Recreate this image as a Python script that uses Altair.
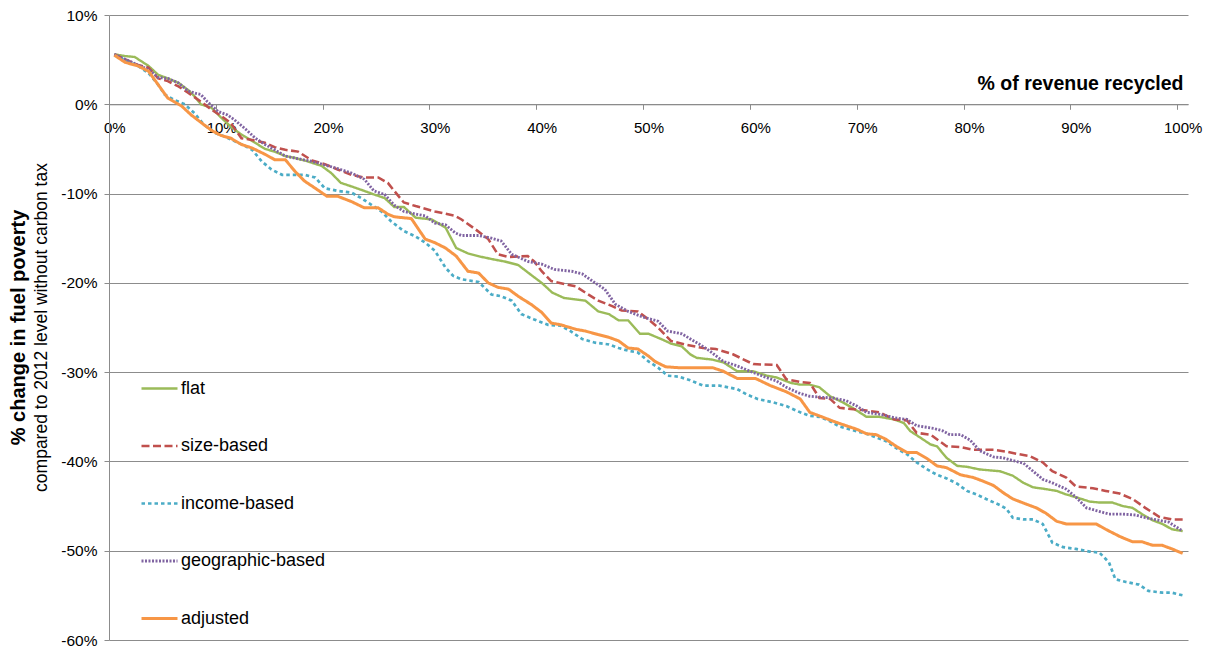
import altair as alt
import pandas as pd

series_names = ["flat", "size-based", "income-based", "geographic-based", "adjusted"]

# (x = % of revenue recycled, y = % change in fuel poverty)
flat = [(0.0,5.6),(1.0,5.4),(1.9,5.3),(3.2,4.3),(4.1,3.3),(5.0,2.9),(6.0,2.4),(6.9,1.6),(7.5,0.9),(8.1,0.0),
        (9.1,-0.4),(10.0,-1.5),(10.9,-2.5),(11.9,-3.4),(12.9,-4.1),(14.1,-5.0),(15.0,-5.3),(16.0,-5.8),(16.9,-6.0),
        (18.1,-6.4),(19.4,-6.9),(20.3,-7.7),(21.2,-8.8),(22.2,-9.2),(23.4,-9.7),(24.3,-10.1),(25.3,-10.5),(26.2,-11.5),
        (27.1,-11.5),(28.2,-12.7),(29.7,-12.9),(31.0,-13.8),(32.0,-16.1),(33.1,-16.7),(34.4,-17.1),(35.6,-17.4),
        (36.5,-17.6),(37.8,-18.0),(39.0,-19.1),(40.0,-20.0),(41.0,-21.1),(42.1,-21.7),(44.1,-22.0),(45.3,-23.2),
        (46.3,-23.5),(47.2,-24.2),(48.1,-24.2),(49.2,-25.7),(50.0,-25.7),(51.2,-26.3),(52.1,-26.8),(53.1,-27.1),
        (53.9,-28.0),(54.5,-28.4),(56.0,-28.6),(57.0,-28.9),(58.3,-29.9),(59.8,-29.9),(61.1,-30.4),(62.0,-30.6),
        (63.3,-31.2),(64.2,-31.4),(65.1,-31.4),(66.0,-31.7),(67.0,-32.7),(68.2,-33.4),(69.1,-34.0),(70.4,-35.0),
        (71.6,-35.0),(73.0,-35.3),(73.9,-35.7),(74.5,-36.6),(75.4,-37.3),(76.4,-38.1),(77.0,-38.3),(77.9,-39.6),
        (78.9,-40.5),(79.8,-40.6),(81.0,-40.9),(82.9,-41.1),(84.1,-41.6),(85.1,-42.4),(86.0,-42.9),(87.2,-43.1),
        (88.2,-43.3),(89.1,-43.7),(90.0,-44.0),(91.3,-44.5),(92.2,-44.6),(93.4,-44.6),(94.4,-45.0),(95.3,-45.2),
        (96.2,-45.9),(97.2,-46.6),(98.1,-47.0),(99.0,-47.6),(100.0,-47.8)]

size_based = [(0.0,5.6),(2.2,4.4),(3.2,4.1),(4.1,2.9),(5.0,2.6),(6.0,2.0),(6.9,1.3),(8.1,0.3),(9.1,-0.6),(10.0,-1.3),
        (10.9,-2.1),(11.9,-3.8),(12.9,-4.0),(14.1,-4.3),(15.0,-4.8),(16.0,-5.1),(17.2,-5.3),(18.5,-6.3),(19.7,-6.7),
        (20.9,-7.3),(22.2,-7.9),(23.4,-8.2),(24.7,-8.2),(25.6,-8.8),(26.2,-9.7),(27.1,-11.0),(28.2,-11.4),(30.0,-12.0),
        (31.9,-12.5),(32.5,-12.9),(33.8,-14.0),(35.0,-15.1),(35.9,-16.8),(36.9,-17.1),(38.7,-17.0),(39.3,-17.6),
        (40.0,-18.7),(40.9,-19.8),(43.2,-20.4),(44.1,-21.1),(45.3,-22.0),(46.6,-22.6),(47.5,-23.1),(49.0,-23.2),
        (50.0,-24.1),(50.9,-25.0),(52.1,-26.5),(53.4,-26.9),(55.1,-27.3),(56.3,-27.4),(57.9,-28.0),(59.8,-29.1),
        (62.0,-29.2),(62.9,-30.8),(64.2,-31.1),(65.1,-31.2),(66.0,-32.9),(67.0,-33.0),(67.9,-34.0),(70.4,-34.3),
        (71.6,-34.5),(73.0,-35.3),(74.2,-35.4),(75.1,-36.8),(76.4,-37.0),(77.9,-38.3),(79.2,-38.4),(80.4,-38.7),
        (82.3,-38.7),(83.5,-38.9),(84.7,-39.2),(85.7,-39.4),(86.9,-40.1),(87.8,-41.1),(89.1,-41.8),(90.0,-42.8),
        (91.6,-43.0),(92.8,-43.3),(94.1,-43.6),(95.3,-44.2),(96.5,-45.2),(97.8,-46.2),(99.0,-46.5),(100.0,-46.5)]

income_based = [(0.0,5.5),(2.2,4.3),(3.2,3.5),(4.1,2.2),(4.7,1.1),(5.6,0.5),(6.6,0.0),(7.5,-1.0),(8.4,-2.3),(9.4,-3.2),
        (10.3,-3.6),(11.2,-4.1),(12.3,-4.7),(12.9,-5.1),(13.8,-6.4),(14.7,-7.3),(15.7,-7.9),(17.8,-7.9),(18.8,-8.2),
        (19.7,-9.4),(20.9,-9.7),(22.2,-9.9),(23.1,-10.5),(24.0,-11.2),(25.0,-12.0),(25.9,-13.1),(27.1,-14.2),
        (28.2,-14.8),(29.1,-15.5),(30.0,-16.4),(31.0,-18.3),(31.7,-19.2),(32.5,-19.6),(34.1,-19.9),(35.3,-21.3),
        (36.2,-21.5),(37.2,-22.0),(38.1,-23.5),(39.3,-24.1),(40.6,-24.7),(41.8,-24.8),(42.7,-25.4),(43.8,-26.3),
        (45.0,-26.7),(46.3,-26.9),(47.2,-27.3),(48.1,-27.6),(49.0,-27.8),(50.0,-28.8),(50.9,-29.5),(51.8,-30.4),
        (52.8,-30.5),(53.9,-30.9),(55.1,-31.5),(56.6,-31.5),(58.3,-31.9),(59.2,-32.5),(60.2,-33.0),(61.7,-33.4),
        (62.9,-33.8),(64.2,-34.5),(65.1,-34.9),(66.0,-35.0),(67.0,-35.5),(67.9,-36.1),(69.1,-36.5),(70.4,-36.9),
        (71.3,-37.3),(72.2,-37.7),(73.3,-38.6),(74.2,-39.2),(75.1,-40.1),(76.1,-40.9),(77.0,-41.5),(77.9,-41.9),
        (78.9,-42.5),(79.8,-43.3),(80.7,-43.7),(81.6,-44.2),(82.9,-44.9),(83.5,-45.3),(84.1,-46.3),(85.1,-46.5),
        (86.0,-46.5),(86.9,-47.0),(87.8,-49.1),(88.8,-49.6),(90.0,-49.8),(91.3,-50.1),(92.2,-50.2),(93.1,-51.3),
        (93.7,-53.2),(94.7,-53.5),(95.9,-53.8),(96.8,-54.5),(98.1,-54.7),(99.0,-54.7),(100.0,-55.0)]

geographic_based = [(0.0,5.6),(2.2,4.4),(3.2,3.9),(4.1,3.0),(5.0,2.9),(6.0,2.4),(6.9,1.5),(7.7,1.2),(8.1,1.1),(8.7,0.3),
        (9.7,-0.8),(10.6,-1.2),(11.2,-1.7),(12.3,-2.8),(13.2,-3.8),(14.1,-4.5),(15.0,-5.1),(16.0,-5.8),(17.2,-6.1),
        (18.5,-6.4),(19.7,-6.8),(20.9,-7.2),(22.2,-7.7),(23.4,-8.4),(24.3,-9.7),(25.3,-10.1),(26.2,-11.3),(27.1,-12.0),
        (28.2,-12.3),(29.1,-12.5),(30.0,-13.3),(31.0,-13.5),(31.9,-14.4),(32.5,-14.7),(34.1,-14.7),(35.3,-15.0),
        (36.2,-15.3),(37.2,-16.8),(38.7,-17.6),(40.0,-17.9),(41.2,-18.5),(42.8,-18.7),(43.8,-19.0),(45.0,-20.0),
        (45.9,-20.7),(46.9,-22.4),(48.1,-23.2),(49.4,-23.8),(50.9,-24.3),(51.8,-25.4),(53.1,-25.7),(54.8,-26.9),
        (55.7,-27.6),(57.0,-28.8),(58.3,-29.3),(59.5,-29.9),(60.8,-30.5),(62.0,-31.0),(62.9,-31.7),(64.2,-32.4),
        (65.1,-32.7),(66.0,-32.8),(67.3,-32.9),(68.5,-33.2),(69.5,-33.8),(70.4,-34.5),(71.6,-34.7),(73.0,-35.1),
        (74.2,-35.3),(75.1,-36.0),(76.7,-36.3),(77.6,-36.6),(78.2,-37.0),(79.2,-37.0),(80.1,-37.6),(81.0,-38.8),
        (82.3,-39.5),(83.2,-39.6),(84.1,-39.9),(85.1,-40.2),(86.0,-41.1),(86.9,-42.0),(87.8,-42.4),(89.1,-43.1),
        (90.0,-44.0),(91.0,-45.2),(91.9,-45.5),(93.1,-45.9),(94.4,-45.9),(95.6,-46.0),(96.5,-46.3),(97.8,-46.6),
        (98.7,-46.8),(100.0,-47.8)]

adjusted = [(0.0,5.5),(1.0,4.7),(2.2,4.3),(3.2,3.7),(4.1,2.2),(5.0,0.7),(6.3,-0.2),(7.2,-1.2),(8.4,-2.3),(9.2,-3.0),
        (10.0,-3.5),(10.9,-3.8),(11.9,-4.5),(12.9,-4.9),(14.1,-5.6),(15.0,-6.2),(16.0,-6.2),(16.9,-7.5),(17.8,-8.6),
        (18.8,-9.4),(19.9,-10.3),(20.9,-10.3),(22.2,-10.9),(23.4,-11.6),(24.7,-11.6),(25.6,-12.3),(26.2,-12.6),
        (27.8,-12.8),(29.1,-15.1),(30.0,-15.5),(31.0,-16.1),(32.0,-17.0),(33.1,-18.7),(34.1,-18.9),(35.0,-20.0),
        (35.9,-20.5),(36.9,-20.7),(37.8,-21.5),(39.0,-22.4),(40.0,-23.3),(40.9,-24.5),(41.8,-24.7),(43.2,-25.2),
        (44.1,-25.4),(45.3,-25.8),(46.3,-26.1),(47.2,-26.5),(48.1,-27.3),(49.0,-27.4),(50.0,-28.2),(50.6,-28.8),
        (51.6,-29.4),(52.8,-29.5),(53.9,-29.5),(56.0,-29.5),(57.0,-29.9),(58.3,-30.7),(60.0,-30.7),(61.4,-31.5),
        (62.9,-32.2),(64.2,-33.0),(65.1,-34.5),(66.0,-34.9),(67.3,-35.5),(68.5,-36.0),(69.5,-36.4),(70.4,-36.9),
        (71.3,-37.0),(72.2,-37.5),(73.3,-38.4),(74.2,-39.0),(75.1,-39.0),(76.1,-39.7),(77.0,-40.5),(77.9,-40.7),
        (79.2,-41.5),(80.4,-41.8),(81.3,-42.2),(82.3,-42.7),(83.2,-43.5),(84.1,-44.2),(85.4,-44.8),(86.3,-45.2),
        (87.2,-45.8),(88.2,-46.7),(89.1,-47.0),(91.9,-47.0),(92.8,-47.6),(94.1,-48.4),(95.3,-49.0),(96.2,-49.0),
        (97.2,-49.4),(98.1,-49.4),(99.0,-49.8),(100.0,-50.3)]

x_ticks = list(range(0, 101, 10))
y_ticks = list(range(-60, 11, 10))
y_title_main = "% change in fuel poverty"
y_title_sub = "compared to 2012 level without carbon tax"
x_title = "% of revenue recycled"

colors = ["#9BBB59", "#C0504D", "#4BACC6", "#8064A2", "#F79646"]
dashes = [[1, 0], [8, 3.5], [3.5, 3], [2, 1.5], [1, 0]]
widths = [2.4, 3, 3.4, 2.6, 4.6]

rows = []
for name, pts in zip(series_names, [flat, size_based, income_based, geographic_based, adjusted]):
    for i, (xv, yv) in enumerate(pts):
        rows.append({"series": name, "x": xv, "y": yv, "order": i})
df = pd.DataFrame(rows)

W, H = 1079, 625
FONT = "Liberation Sans"
GRAY = "#8c8c8c"
half_cat = W / 101 / 2
zero_offset = -(H * 60 / 70)

leg = alt.Legend(title=None)

lines = alt.Chart(df).mark_line().encode(
    x=alt.X("x:Q",
            scale=alt.Scale(domain=[-0.5, 100.5], nice=False, zero=False),
            axis=alt.Axis(values=x_ticks, labelExpr="datum.value + '%'", grid=False,
                          offset=zero_offset, tickOffset=-half_cat, labelOffset=half_cat,
                          tickSize=5, tickColor=GRAY, domainColor=GRAY, labelPadding=11,
                          labelFlush=False, labelOverlap=False, labelFontSize=15, labelColor="#000",
                          labelFont=FONT,
                          title=x_title, titleX=W - 5, titleY=-15, titleAlign="right",
                          titleBaseline="alphabetic", titleFontSize=19.5, titleFontWeight="bold",
                          titleFont=FONT, titleColor="#000")),
    y=alt.Y("y:Q",
            scale=alt.Scale(domain=[-60, 10], nice=False, zero=False),
            axis=alt.Axis(values=y_ticks, labelExpr="datum.value + '%'", title=None,
                          tickSize=5, tickColor=GRAY, domainColor=GRAY, gridColor=GRAY,
                          labelPadding=7, labelFlush=False, labelFontSize=15.5, labelColor="#000",
                          labelFont=FONT)),
    color=alt.Color("series:N", scale=alt.Scale(domain=series_names, range=colors), legend=leg),
    strokeDash=alt.StrokeDash("series:N", scale=alt.Scale(domain=series_names, range=dashes), legend=leg),
    strokeWidth=alt.StrokeWidth("series:N", scale=alt.Scale(domain=series_names, range=widths), legend=leg),
    order="order:Q",
)

t_main = alt.Chart(pd.DataFrame({"t": [y_title_main]})).mark_text(
    angle=270, font=FONT, fontSize=20, fontWeight="bold", align="center", baseline="middle", color="#000"
).encode(x=alt.value(-90), y=alt.value(H / 2), text="t:N")

t_sub = alt.Chart(pd.DataFrame({"t": [y_title_sub]})).mark_text(
    angle=270, font=FONT, fontSize=17.5, align="center", baseline="middle", color="#000"
).encode(x=alt.value(-67), y=alt.value(H / 2), text="t:N")

chart = alt.layer(lines, t_main, t_sub).properties(
    width=W, height=H,
    autosize=alt.AutoSizeParams(type="none"),
    padding={"left": 101, "top": 7, "right": 15, "bottom": 8},
).configure_view(stroke=None).configure_legend(
    orient="none", legendX=31, legendY=354, symbolType="stroke", symbolSize=1296,
    labelFontSize=18, labelFont=FONT, labelColor="#000", rowPadding=28.5, labelOffset=2,
    padding=0,
)

chart.save("out.html", embed_options={"renderer": "svg", "actions": False})
